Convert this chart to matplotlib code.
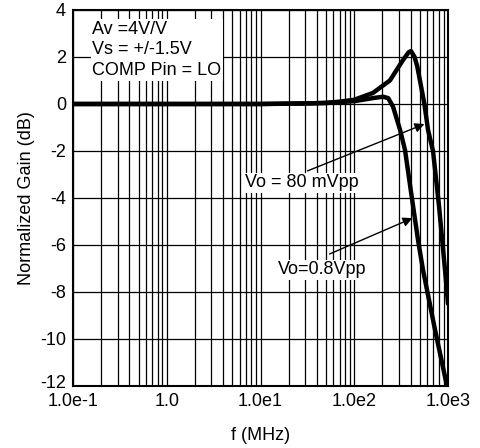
import numpy as np
import matplotlib
matplotlib.use('Agg')
import matplotlib.pyplot as plt
import matplotlib.transforms as mtransforms
from matplotlib.ticker import FixedLocator, LogLocator, NullFormatter

plt.rcParams['font.family'] = ['Liberation Sans', 'DejaVu Sans']
plt.rcParams['axes.unicode_minus'] = False

# 80 mVpp response
f_80m = [0.1, 1, 10, 30, 50, 70, 100, 158, 240, 331, 380, 403, 440, 470, 502, 560, 612, 692, 800, 929, 1000]
g_80m = [0, 0, 0, 0.02, 0.05, 0.1, 0.18, 0.47, 1.0, 1.87, 2.2, 2.25, 2.0, 1.6, 1.0, 0.0, -1.1, -2.0, -4.3, -7.06, -8.5]

# 0.8 Vpp response
f_08 = [0.1, 1, 10, 50, 100, 158, 203, 230, 259, 308, 348, 400, 479, 541, 726, 975, 1000]
g_08 = [0, 0, 0, 0.04, 0.12, 0.25, 0.31, 0.25, -0.11, -1.1, -1.96, -3.65, -5.79, -7.06, -9.6, -12, -12.3]

xticks = [0.1, 1, 10, 100, 1000]
xtick_labels = ['1.0e-1', '1.0', '1.0e1', '1.0e2', '1.0e3']
yticks = [-12, -10, -8, -6, -4, -2, 0, 2, 4]

fig = plt.figure(figsize=(4.81, 4.48), dpi=100)
ax = fig.add_axes([0.1518, 0.1384, 0.7796, 0.8393])

ax.set_xscale('log')
ax.set_xlim(0.1, 1000)
ax.set_ylim(-12, 4)
ax.xaxis.set_major_locator(FixedLocator(xticks))
ax.set_xticklabels(xtick_labels)
ax.xaxis.set_minor_locator(LogLocator(base=10, subs=np.arange(2, 10)))
ax.xaxis.set_minor_formatter(NullFormatter())
ax.set_yticks(yticks)

ax.grid(True, which='both', axis='x', color='black', lw=0.9)
ax.grid(True, which='major', axis='y', color='black', lw=0.9)
ax.set_axisbelow(True)
ax.tick_params(which='both', length=0, labelsize=13)
ax.tick_params(axis='x', pad=5)
ax.tick_params(axis='y', pad=5)
for s in ax.spines.values():
    s.set_linewidth(1.5)

# nudge the bottom y label up a little so it clears "1.0e-1"
lab = ax.get_yticklabels()[0]
lab.set_transform(lab.get_transform() + mtransforms.ScaledTranslation(0, 3 / 72, fig.dpi_scale_trans))

ax.plot(f_80m, g_80m, color='black', lw=3.2, solid_capstyle='round', zorder=3)
ax.plot(f_08, g_08, color='black', lw=3.2, solid_capstyle='round', zorder=3)

ax.text(0.16, 3.55, 'Av =4V/V\nVs = +/-1.5V\nCOMP Pin = LO', fontsize=13,
        va='top', ha='left', linespacing=1.3,
        bbox=dict(facecolor='white', edgecolor='none', pad=1), zorder=4)

ax.annotate('', xy=(597, -0.81), xytext=(29.8, -2.89),
            arrowprops=dict(arrowstyle='-|>', color='black', lw=1, mutation_scale=14), zorder=5)
ax.text(6.83, -3.36, 'Vo = 80 mVpp', fontsize=13, va='center', ha='left',
        bbox=dict(facecolor='white', edgecolor='none', pad=1), zorder=4)

ax.annotate('', xy=(445, -4.81), xytext=(51.2, -6.43),
            arrowprops=dict(arrowstyle='-|>', color='black', lw=1, mutation_scale=14), zorder=5)
ax.text(15.4, -7.06, 'Vo=0.8Vpp', fontsize=13, va='center', ha='left',
        bbox=dict(facecolor='white', edgecolor='none', pad=1), zorder=4)

ax.set_xlabel('f (MHz)', fontsize=13, labelpad=12)
ax.set_ylabel('Normalized Gain (dB)', fontsize=13, labelpad=4)

fig.savefig('out.png', dpi=100)
